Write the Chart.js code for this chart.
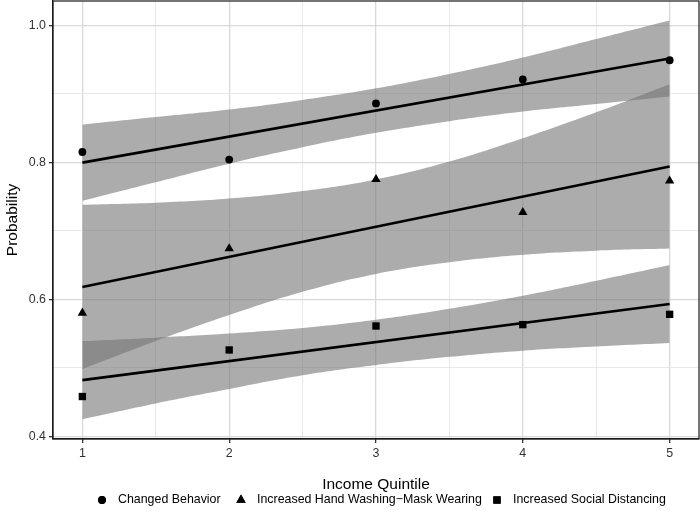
<!DOCTYPE html>
<html><head><meta charset="utf-8">
<script src="https://cdn.jsdelivr.net/npm/chart.js@4/dist/chart.umd.min.js"></script>
<style>html,body{margin:0;padding:0;background:#fff}#wrap{width:700px;height:514px}</style>
</head><body><div id="wrap"><canvas id="c" width="700" height="514"></canvas></div>
<script>
// ---- data ----
const quintiles = [1, 2, 3, 4, 5];
const changedBehavior = [0.815, 0.804, 0.886, 0.921, 0.949];
const handWashMask = [0.580, 0.674, 0.775, 0.727, 0.773];
const socialDistancing = [0.458, 0.526, 0.561, 0.563, 0.578];

const fitX = [1, 5];
const changedFit = [0.7995, 0.9515];
const handFit = [0.618, 0.794];
const socialFit = [0.482, 0.593];

const bandX = [1, 1.5, 2, 2.5, 3, 3.5, 4, 4.5, 5];
const changedUpper = [0.855, 0.866, 0.877, 0.891, 0.908, 0.929, 0.953, 0.980, 1.007];
const changedLower = [0.744, 0.771, 0.798, 0.822, 0.843, 0.860, 0.874, 0.885, 0.896];
const handUpper = [0.738, 0.741, 0.747, 0.758, 0.775, 0.801, 0.835, 0.873, 0.914];
const handLower = [0.498, 0.539, 0.577, 0.611, 0.637, 0.654, 0.665, 0.671, 0.674];
const socialUpper = [0.539, 0.544, 0.550, 0.558, 0.570, 0.586, 0.605, 0.627, 0.650];
const socialLower = [0.425, 0.448, 0.469, 0.489, 0.504, 0.516, 0.525, 0.531, 0.536];

const seriesNames = ['Changed Behavior', 'Increased Hand Washing\u2212Mask Wearing', 'Increased Social Distancing'];
const xTickLabels = ['1', '2', '3', '4', '5'];
const xMajor = [1, 2, 3, 4, 5];
const xMinor = [1.5, 2.5, 3.5, 4.5];
const yMajor = [0.4, 0.6, 0.8, 1.0];
const yMinor = [0.5, 0.7, 0.9];
const yTickLabels = ['0.4', '0.6', '0.8', '1.0'];

// ---- build ----
const pts = (xs, ys) => xs.map((x, i) => ({x: x, y: ys[i]}));
const FONT = '"Liberation Sans", Arial, Helvetica, sans-serif';
const bandFill = 'rgba(117,117,117,0.6)';
const shapes = ['circle', 'triangle', 'rect'];
const radii = [3.9, 5.4, 5.2];

function band(upper, lower) {
  return [
    {data: pts(bandX, upper), borderColor: 'transparent', borderWidth: 0, pointRadius: 0, fill: '+1', backgroundColor: bandFill, tension: 0.4},
    {data: pts(bandX, lower), borderColor: 'transparent', borderWidth: 0, pointRadius: 0, fill: false, tension: 0.4}
  ];
}
function fitLine(ys) {
  return {data: pts(fitX, ys), borderColor: '#000', borderWidth: 2.6, pointRadius: 0, fill: false, tension: 0};
}
function points(ys, k) {
  return {data: pts(quintiles, ys), showLine: false, pointStyle: shapes[k], pointRadius: radii[k], pointBackgroundColor: '#000', pointBorderWidth: 0, pointBorderColor: '#000'};
}

const datasets = [].concat(
  band(changedUpper, changedLower),
  band(handUpper, handLower),
  band(socialUpper, socialLower),
  [fitLine(changedFit), fitLine(handFit), fitLine(socialFit)],
  [points(changedBehavior, 0), points(handWashMask, 1), points(socialDistancing, 2)]
);

const isIn = (arr, v) => arr.some(a => Math.abs(a - v) < 1e-9);
const noPad = s => { s.paddingTop = 0; s.paddingBottom = 0; s.paddingLeft = 0; s.paddingRight = 0; };

const frame = {
  id: 'frame',
  afterDatasetsDraw(chart) {
    const {ctx, chartArea: a} = chart;
    ctx.save();
    ctx.strokeStyle = '#1a1a1a';
    ctx.lineWidth = 1.2;
    ctx.strokeRect(a.left, a.top, a.right - a.left, a.bottom - a.top);
    ctx.restore();
  }
};

const legend = {
  id: 'customLegend',
  afterDraw(chart) {
    const ctx = chart.ctx;
    const y = 500;
    const symX = [102, 241, 497];
    ctx.save();
    ctx.font = '12.4px ' + FONT;
    ctx.textBaseline = 'middle';
    ctx.textAlign = 'left';
    for (let k = 0; k < 3; k++) {
      const x = symX[k];
      ctx.fillStyle = '#000';
      Chart.helpers.drawPoint(ctx, {pointStyle: shapes[k], radius: radii[k], borderWidth: 0}, x, y);
      ctx.fill();
      ctx.fillStyle = '#000';
      ctx.fillText(seriesNames[k], x + 16, y);
    }
    ctx.restore();
  }
};

new Chart(document.getElementById('c'), {
  type: 'line',
  data: {datasets: datasets},
  options: {
    responsive: false,
    devicePixelRatio: 1,
    animation: false,
    layout: {autoPadding: false, padding: {top: 1, right: 1, bottom: 20, left: 0}},
    plugins: {legend: {display: false}, tooltip: {enabled: false}, filler: {drawTime: 'beforeDatasetsDraw'}},
    scales: {
      x: {
        type: 'linear', min: 0.8, max: 5.2,
        afterBuildTicks: s => { s.ticks = xMajor.concat(xMinor).sort((a, b) => a - b).map(v => ({value: v})); },
        afterFit: s => { s.height = 55; noPad(s); },
        ticks: {autoSkip: false, maxRotation: 0, padding: 3, color: '#333', font: {family: FONT, size: 12.4},
          callback: v => { const i = xMajor.findIndex(m => Math.abs(m - v) < 1e-9); return i >= 0 ? xTickLabels[i] : ''; }},
        grid: {
          color: c => (c.tick && isIn(xMajor, c.tick.value)) ? '#d9d9d9' : '#e8e8e8',
          lineWidth: c => (c.tick && isIn(xMajor, c.tick.value)) ? 1.3 : 1,
          tickColor: c => (c.tick && isIn(xMajor, c.tick.value)) ? '#333' : 'rgba(0,0,0,0)',
          tickLength: 4
        },
        border: {color: '#1a1a1a', width: 1.2},
        title: {display: true, text: 'Income Quintile', color: '#000', font: {family: FONT, size: 15.5}, padding: {top: 0, bottom: 0}}
      },
      y: {
        type: 'linear', min: 0.396, max: 1.0355,
        afterBuildTicks: s => { s.ticks = yMajor.concat(yMinor).sort((a, b) => a - b).map(v => ({value: v})); },
        afterFit: s => { s.width = 53; noPad(s); },
        ticks: {autoSkip: false, padding: 3, color: '#333', font: {family: FONT, size: 12.4},
          callback: v => { const i = yMajor.findIndex(m => Math.abs(m - v) < 1e-9); return i >= 0 ? yTickLabels[i] : ''; }},
        grid: {
          color: c => (c.tick && isIn(yMajor, c.tick.value)) ? '#d9d9d9' : '#e8e8e8',
          lineWidth: c => (c.tick && isIn(yMajor, c.tick.value)) ? 1.3 : 1,
          tickColor: c => (c.tick && isIn(yMajor, c.tick.value)) ? '#333' : 'rgba(0,0,0,0)',
          tickLength: 4
        },
        border: {color: '#1a1a1a', width: 1.2},
        title: {display: true, text: 'Probability', color: '#000', font: {family: FONT, size: 15.5}, padding: {top: 3, bottom: 0}}
      }
    }
  },
  plugins: [frame, legend]
});
</script>
</body></html>
